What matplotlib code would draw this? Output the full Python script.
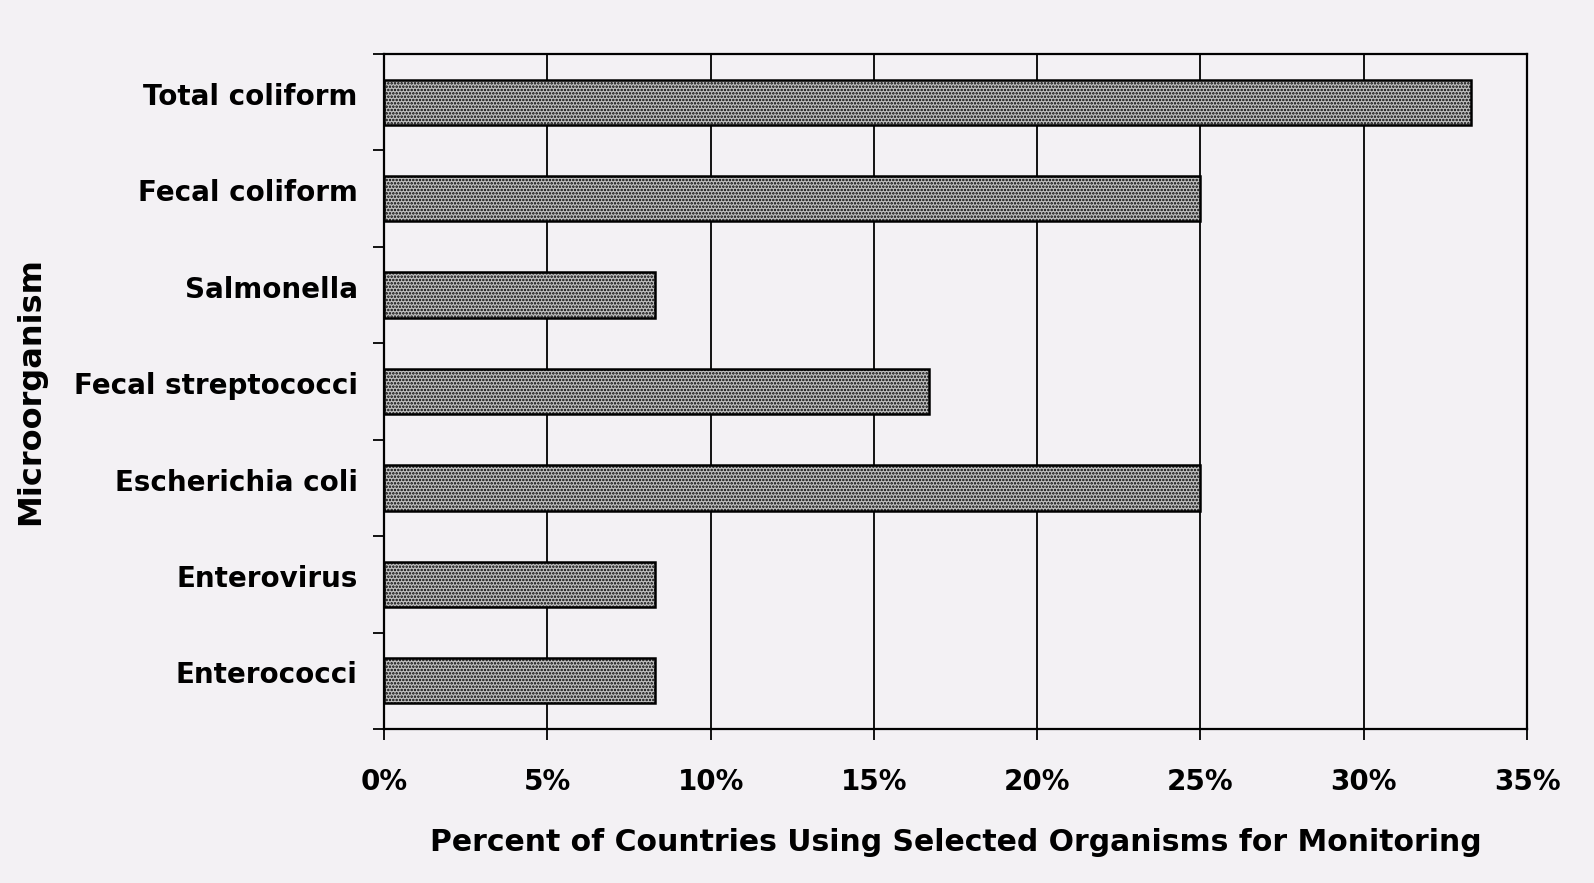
import numpy as np
import matplotlib.pyplot as plt
import matplotlib.transforms as mtransforms
from matplotlib.ticker import PercentFormatter

# values (share of countries)
organisms = ["Total coliform", "Fecal coliform", "Salmonella", "Fecal streptococci",
             "Escherichia coli", "Enterovirus", "Enterococci"]
percent = [33.3, 25.0, 8.3, 16.7, 25.0, 8.3, 8.3]
x_ticks = [0, 5, 10, 15, 20, 25, 30, 35]

plt.rcParams['font.family'] = ['DejaVu Sans']
plt.rcParams['hatch.color'] = '#1e1e1e'
plt.rcParams['hatch.linewidth'] = 1.2

bg = '#f3f1f4'
fig = plt.figure(figsize=(15.94, 8.83), dpi=100, facecolor=bg)
ax = fig.add_axes([384 / 1594, 1 - 729 / 883, (1527 - 384) / 1594, (729 - 54) / 883])
ax.set_facecolor(bg)

y = np.arange(len(organisms))
ax.barh(y, percent, height=0.47, color='#c0c0c0', edgecolor='black',
        linewidth=1.8, hatch='.....', zorder=3)

ax.set_xlim(0, 35)
ax.set_ylim(len(organisms) - 0.5, -0.5)
ax.set_xticks(x_ticks)
ax.xaxis.set_major_formatter(PercentFormatter(decimals=0))
ax.grid(axis='x', color='black', linewidth=1.3, zorder=0)

# category labels without tick marks, tick marks between categories
ax.set_yticks(y)
ax.set_yticklabels(organisms, fontsize=20, fontweight='bold')
ax.tick_params(axis='y', length=0, pad=19)
ax.set_yticks(np.arange(-0.5, len(organisms), 1), minor=True)
ax.tick_params(axis='y', which='minor', length=8, width=1.3, direction='out')
ax.tick_params(axis='x', length=8, width=1.3, direction='out', pad=20,
               labelsize=20)
for lab in ax.get_xticklabels():
    lab.set_fontweight('bold')

# labels in the scan sit a little above the bar centres
shift = mtransforms.ScaledTranslation(0, 6 / 72, fig.dpi_scale_trans)
for lab in ax.get_yticklabels():
    lab.set_transform(lab.get_transform() + shift)

for s in ax.spines.values():
    s.set_linewidth(1.6)
    s.set_color('black')

ax.set_xlabel("Percent of Countries Using Selected Organisms for Monitoring",
              fontsize=21.5, fontweight='bold', labelpad=23)
ax.set_ylabel("Microorganism", fontsize=23, fontweight='bold')
ax.yaxis.set_label_coords(-0.296, 0.5)

fig.savefig("out.png", dpi=100, facecolor=bg)
